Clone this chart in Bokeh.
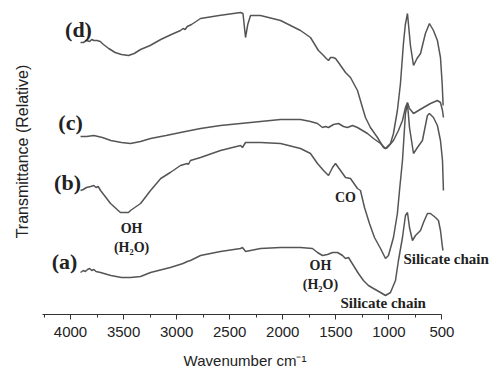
import math
from bokeh.plotting import figure
from bokeh.models import Range1d, FixedTicker, Label
from bokeh.embed import file_html
from bokeh.resources import INLINE

# ---- data (wavenumber cm-1, relative transmittance, arbitrary units) ----
wn_a = [3906, 3880, 3860, 3840, 3820, 3800, 3780, 3760, 3717, 3620, 3520, 3435, 3340, 3246, 3060,
        2940, 2920, 2900, 2870, 2775, 2587, 2398, 2380, 2350, 2304, 2210, 2021, 1833, 1720, 1673,
        1626, 1579, 1531, 1484, 1437, 1409, 1381, 1334, 1287, 1240, 1193, 1145, 1079, 1032, 985,
        938, 910, 872, 844, 825, 806, 778, 749, 702, 674, 637, 608, 561, 533, 514, 495, 490]
t_a = [42, 44, 43, 45, 46, 44, 45, 43, 42, 39, 37, 37, 38, 42, 47,
       51, 52, 53, 54, 59, 63, 66, 67, 63, 64, 66, 67, 67, 66, 62,
       59, 60, 62, 62, 59, 56, 57, 49, 41, 34, 29, 26, 22, 19, 22,
       34, 54, 77, 99, 102, 87, 74, 79, 84, 92, 101, 101, 97, 94, 84, 67, 64]

wn_b = [3906, 3880, 3850, 3810, 3780, 3760, 3740, 3717, 3623, 3530, 3454, 3435, 3340, 3246, 3150,
        3060, 2964, 2900, 2890, 2870, 2775, 2587, 2398, 2380, 2351, 2304, 2210, 2021, 1833, 1739,
        1673, 1616, 1569, 1531, 1503, 1456, 1409, 1362, 1296, 1268, 1230, 1183, 1136, 1079, 1032,
        1004, 957, 920, 900, 872, 844, 825, 806, 768, 731, 684, 637, 618, 580, 543, 514, 495, 486]
t_b = [124, 125, 127, 128, 129, 127, 128, 124, 111, 102, 102, 104, 111, 124, 136,
       142, 149, 151, 150, 154, 157, 164, 169, 167, 172, 172, 172, 171, 166, 161,
       151, 144, 139, 147, 151, 144, 137, 136, 126, 124, 107, 91, 77, 66, 56,
       59, 77, 101, 124, 154, 201, 211, 187, 161, 167, 174, 199, 201, 197, 189, 174, 154, 124]

wn_c = [3906, 3850, 3780, 3700, 3620, 3520, 3435, 3340, 3246, 3100, 2964, 2775, 2587, 2398, 2304,
        2210, 2021, 1833, 1739, 1673, 1626, 1597, 1569, 1522, 1475, 1428, 1390, 1343, 1296, 1249,
        1202, 1145, 1079, 1032, 1013, 957, 910, 872, 844, 825, 806, 768, 721, 674, 608, 543, 514,
        495, 486]
t_c = [178, 178, 179, 177, 174, 172, 171, 173, 176, 179, 182, 186, 189, 191, 192,
       193, 195, 195, 193, 191, 187, 188, 187, 190, 191, 188, 187, 189, 187, 184,
       181, 176, 171, 166, 167, 174, 184, 194, 207, 212, 206, 201, 204, 207, 211, 214, 212,
       204, 197]

wn_d = [3906, 3880, 3850, 3820, 3800, 3780, 3750, 3720, 3690, 3640, 3580, 3520, 3454, 3400, 3340,
        3250, 3150, 3050, 2964, 2940, 2920, 2900, 2860, 2775, 2600, 2398, 2375, 2351, 2330, 2304,
        2210, 2021, 1833, 1739, 1664, 1616, 1590, 1569, 1550, 1525, 1503, 1475, 1409, 1362, 1296,
        1249, 1221, 1174, 1108, 1051, 1032, 985, 957, 920, 891, 863, 845, 825, 797, 768, 735,
        702, 656, 618, 580, 543, 514, 498, 489]
t_d = [272, 272, 274, 273, 275, 274, 274, 273, 270, 266, 262, 260, 259, 261, 265,
       269, 275, 280, 284, 286, 285, 288, 290, 296, 299, 302, 301, 277, 290, 299,
       299, 294, 284, 277, 264, 259, 256, 254, 257, 257, 256, 252, 242, 237, 224,
       207, 197, 187, 177, 167, 166, 171, 181, 204, 231, 271, 290, 301, 269, 249, 256,
       261, 281, 291, 284, 274, 257, 231, 209]

major_ticks = [4000, 3500, 3000, 2500, 2000, 1500, 1000, 500]
minor_ticks = [4250, 3750, 3250, 2750, 2250, 1750, 1250, 750]

# ---- figure ----
p = figure(width=489, height=374, output_backend="svg", toolbar_location=None,
           x_range=Range1d(4660, 52), y_range=Range1d(0, 314),
           min_border_left=0, min_border_right=0, min_border_top=0, min_border_bottom=60)
p.outline_line_color = None
p.xgrid.visible = False
p.ygrid.visible = False
p.yaxis.visible = False

line_col = "#555555"
for xs, ys in [(wn_a, t_a), (wn_b, t_b), (wn_c, t_c), (wn_d, t_d)]:
    p.line(xs, ys, line_color=line_col, line_width=1.5)

ax = p.xaxis[0]
ax.bounds = (500, 4264)
ax.ticker = FixedTicker(ticks=major_ticks, minor_ticks=minor_ticks)
ax.axis_line_color = "#333333"
ax.major_tick_line_color = "#333333"
ax.minor_tick_line_color = "#333333"
ax.major_tick_out = 5
ax.major_tick_in = 0
ax.minor_tick_out = 3
ax.minor_tick_in = 0
ax.major_label_text_font = "Liberation Sans"
ax.major_label_text_font_size = "15px"
ax.major_label_text_color = "#222222"
ax.major_label_standoff = 7
ax.axis_label = "Wavenumber cm\u207b\u00b9"
ax.axis_label_text_font = "Liberation Sans"
ax.axis_label_text_font_size = "15px"
ax.axis_label_text_font_style = "normal"
ax.axis_label_text_color = "#222222"
ax.axis_label_standoff = 12

# y-axis title
p.add_layout(Label(x=4452, y=163, text="Transmittance (Relative)", angle=math.pi / 2,
                   text_align="center", text_baseline="middle",
                   text_font="Liberation Sans", text_font_size="16px", text_color="#222222"))

def serif(x, y, text, size, align="center"):
    p.add_layout(Label(x=x, y=y, text=text, text_align=align, text_baseline="middle",
                       text_font="Liberation Serif", text_font_style="bold",
                       text_font_size=size, text_color="#222222"))

serif(3925, 285, "(d)", "22px")
serif(4000, 192, "(c)", "22px")
serif(4028, 132, "(b)", "22px")
serif(4057, 53, "(a)", "22px")

serif(3425, 86, "OH", "14px")
serif(3425, 67, "(H\u2082O)", "14px")
serif(1409, 117, "CO", "14px")
serif(1645, 49, "OH", "14px")
serif(1645, 30, "(H\u2082O)", "14px")
serif(1456, 12, "Silicate chain", "15px", align="left")
serif(863, 56, "Silicate chain", "15px", align="left")

open("out.html", "w").write(file_html(p, INLINE))
